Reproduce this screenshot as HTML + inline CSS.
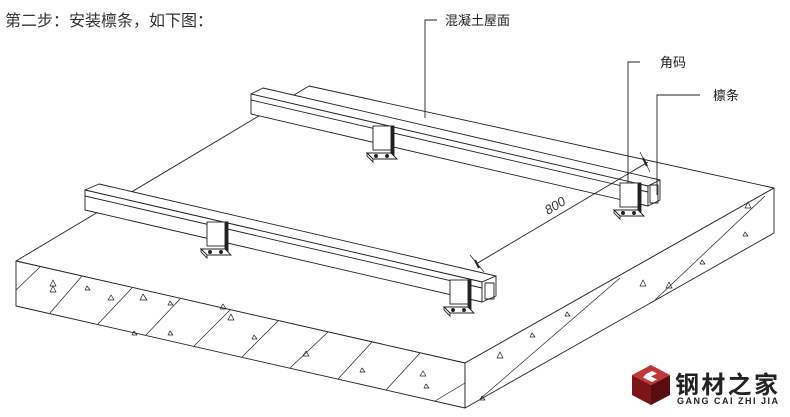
<!DOCTYPE html>
<html><head><meta charset="utf-8"><style>
html,body{margin:0;padding:0;background:#fff;}
svg{display:block;}
text{font-family:"Liberation Sans","Noto Sans CJK SC",sans-serif;}
</style></head><body>
<svg width="790" height="417" viewBox="0 0 790 417" xmlns="http://www.w3.org/2000/svg">
<defs>
<g id="b" fill="#fff" stroke="#222" stroke-width="0.9">
<rect x="0" y="0" width="20" height="24"/>
<rect x="18" y="0" width="3" height="30" fill="#222"/>
<polygon points="-6,27 18,27 24,33 0,33"/>
<polygon points="-6,27 0,33 0,36 -6,30"/>
<circle cx="3" cy="30" r="1.5" fill="#222"/>
<circle cx="14" cy="30" r="1.5" fill="#222"/>
</g>
</defs>
<text x="5" y="26" font-size="16" fill="#333">第二步：安装檩条，如下图：</text>
<g stroke="#222" stroke-width="0.9" fill="none" stroke-linejoin="round">
<!-- slab -->
<polygon points="309,86 774,188 465,363 16,261" fill="#fff"/>
<polygon points="16,261 465,363 465,408 16,306" fill="#fff"/>
<polygon points="465,363 774,188 774,233 465,408" fill="#fff"/>
<g stroke-width="0.7">
<line x1="40" y1="267" x2="16" y2="290"/>
<line x1="82" y1="276" x2="50" y2="313"/>
<line x1="132" y1="288" x2="98" y2="324"/>
<line x1="180" y1="299" x2="146" y2="335"/>
<line x1="230" y1="310" x2="194" y2="346"/>
<line x1="278" y1="321" x2="242" y2="357"/>
<line x1="328" y1="332" x2="290" y2="368"/>
<line x1="372" y1="342" x2="338" y2="379"/>
<line x1="420" y1="353" x2="386" y2="390"/>
<line x1="465" y1="383" x2="435" y2="401"/>
<line x1="480" y1="399" x2="620" y2="278"/>
<line x1="655" y1="300" x2="765" y2="196"/>
</g>
<g stroke-width="0.7">
<path d="M50,286 l3,-6 l3,6z M50,292 l3,-6 l3,6z M85,290 l2,-4 l3,4z M108,300 l3,-5 l3,5z M140,300 l3,-6 l4,6z M168,305 l2,-4 l3,4z M220,309 l3,-5 l3,5z M228,320 l3,-6 l3,6z M132,335 l2,-4 l3,4z M168,335 l2,-4 l3,4z M252,339 l2,-4 l3,4z M303,356 l3,-5 l3,5z M420,376 l3,-5 l3,5z M424,388 l2,-4 l3,4z M360,372 l2,-4 l3,4z M745,208 l3,-6 l3,6z M743,236 l2,-4 l3,4z M700,264 l2,-4 l3,4z M640,286 l3,-6 l3,6z M666,288 l3,-6 l3,6z M565,316 l2,-4 l3,4z M530,337 l2,-4 l3,4z M497,358 l3,-6 l3,6z M480,400 l2,-4 l3,4z"/>
</g>
<!-- back beam -->
<g fill="#fff">
<polygon points="251,94 263,88 660,180 648,186"/>
<polygon points="251,94 648,186 648,206 251,114"/>
<polygon points="648,186 660,180 660,200 648,206"/>
</g>
<line x1="251" y1="100" x2="648" y2="192"/>
<rect x="650" y="185" width="8" height="18"/>
<!-- front beam -->
<g fill="#fff">
<polygon points="85,190 99,184 496,276 482,282"/>
<polygon points="85,190 482,282 482,302 85,210"/>
<polygon points="482,282 496,276 496,296 482,302"/>
</g>
<line x1="85" y1="196" x2="482" y2="288"/>
<rect x="485" y="283" width="9" height="16"/>
<!-- dimension -->
<line x1="476" y1="264" x2="648" y2="162"/>
<line x1="470" y1="255" x2="484" y2="272" stroke-width="0.7"/>
<line x1="640" y1="152" x2="650" y2="172" stroke-width="0.7"/>
<line x1="475" y1="260" x2="479" y2="268" stroke-width="2"/>
<line x1="643" y1="158" x2="647" y2="166" stroke-width="2"/>
<!-- leaders -->
<polyline points="425,118 425,20 437,20"/>
<polyline points="628,190 628,62 640,62"/>
<polyline points="657,195 657,95 700,95"/>
</g>
<use href="#b" x="373" y="126"/>
<use href="#b" x="207" y="222"/>
<use href="#b" x="450" y="280"/>
<use href="#b" x="620" y="183"/>
<text x="0" y="0" font-size="13" fill="#333" font-style="italic" transform="translate(548,215) rotate(-31)">800</text>
<text x="445" y="25" font-size="13" fill="#222">混凝土屋面</text>
<text x="660" y="67" font-size="13" fill="#222">角码</text>
<text x="713" y="100" font-size="13" fill="#222">檩条</text>
<g>
<polygon points="651,365 670,375 651,385 632,375" fill="#c0383a"/>
<polygon points="632,375 651,385 651,405 632,395" fill="#7a1518"/>
<polygon points="670,375 651,385 651,405 670,395" fill="#5a0d10"/>
<path d="M646,374 l6,-3 l5,2.5 l-6,3 l6,3 l-5,2.5 l-9,-4.5z" fill="#fff"/>
</g>
<text x="675" y="393" font-size="24" font-weight="bold" fill="#222" textLength="103">钢材之家</text>
<text x="677" y="404" font-size="9" font-weight="bold" fill="#222" textLength="101">GANG CAI ZHI JIA</text>
</svg>
</body></html>
